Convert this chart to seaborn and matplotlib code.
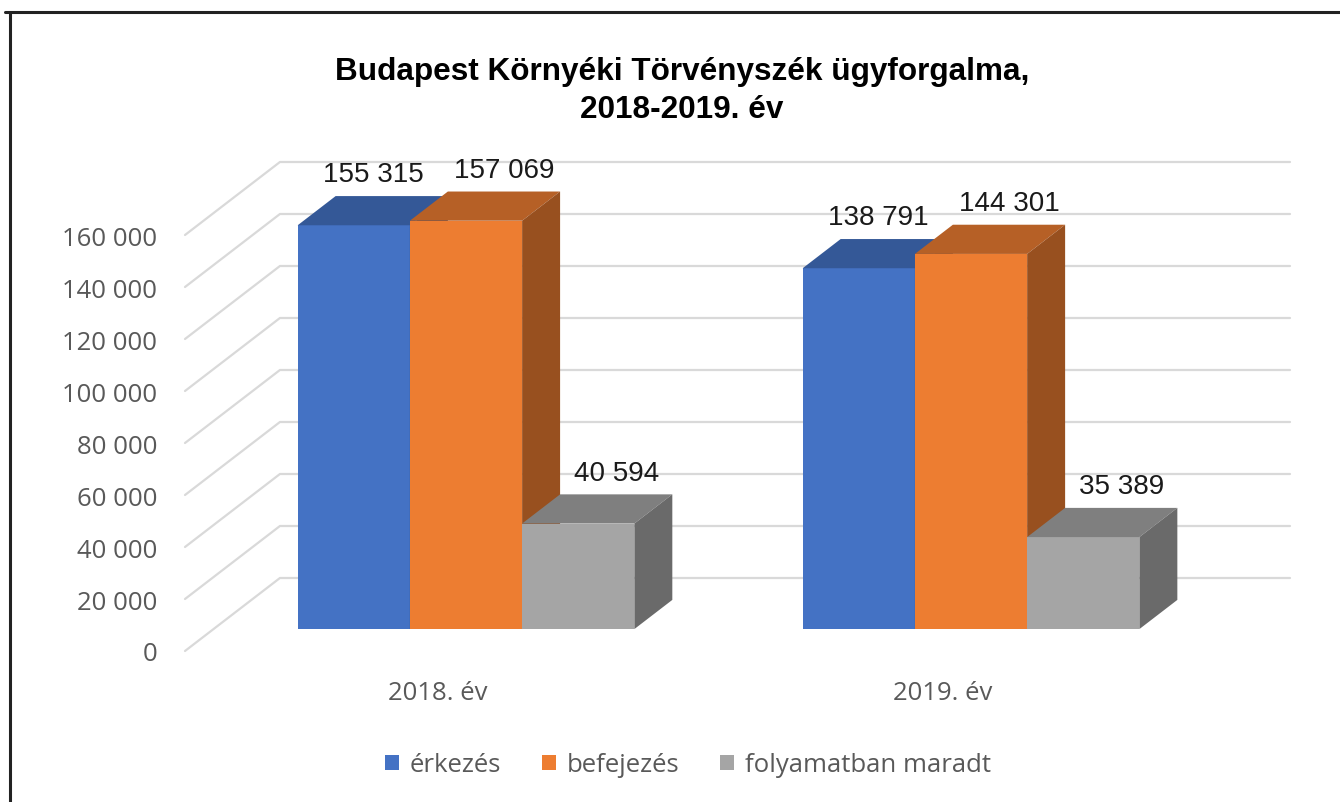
import numpy as np
import pandas as pd
import matplotlib
matplotlib.use("Agg")
import matplotlib.pyplot as plt
import seaborn as sns
from matplotlib.patches import Polygon
from matplotlib.lines import Line2D

# data
years = ["2018. év", "2019. év"]
series = ["érkezés", "befejezés", "folyamatban maradt"]
erkezes = [155315, 138791]
befejezes = [157069, 144301]
folyamatban = [40594, 35389]
yticks = [0, 20000, 40000, 60000, 80000, 100000, 120000, 140000, 160000]
colors = ["#4472C4", "#ED7D31", "#A5A5A5"]

df = pd.DataFrame({
    "ev": years * 3,
    "tipus": [series[0]] * 2 + [series[1]] * 2 + [series[2]] * 2,
    "ertek": erkezes + befejezes + folyamatban,
})

sns.set_style("white")
plt.rcParams["font.family"] = ["Open Sans", "DejaVu Sans"]

W, H = 1340, 803
fig = plt.figure(figsize=(W / 100, H / 100), dpi=100)
ax = fig.add_axes([185 / W, (H - 652) / H, 1105 / W, 489 / H])

# oblique "3D" projection: depth shifts x by DX categories and y by DY value units
DX = 0.188
DY = 28077
Z0, Z1 = 0.3, 0.7
# label nudges (points) per series, like Excel's overlap avoidance
label_dx = {series[0]: -13, series[1]: 0, series[2]: 0}

sns.barplot(data=df, x="ev", y="ertek", hue="tipus", palette=colors,
            width=2 / 3, saturation=1, errorbar=None, linewidth=0, ax=ax)

bars = [p for p in ax.patches if p.get_height() > 0 and p.get_width() > 0]
bars = sorted(bars, key=lambda p: p.get_x())

# wall gridlines
for v in yticks:
    ax.plot([-0.5, -0.5 + DX, 1.5 + DX], [v, v + DY, v + DY],
            color="#D9D9D9", lw=1.6, zorder=0, clip_on=False)

d = Z1 - Z0
for i, p in enumerate(bars):
    x0 = p.get_x() + Z0 * DX
    w = p.get_width()
    h = p.get_height()
    y0 = Z0 * DY
    p.set_x(x0)
    p.set_y(y0)
    zo = 3 + i * 0.1
    p.set_zorder(zo)
    fc = np.array(p.get_facecolor()[:3])
    top = [(x0, y0 + h), (x0 + w, y0 + h), (x0 + w + d * DX, y0 + h + d * DY), (x0 + d * DX, y0 + h + d * DY)]
    side = [(x0 + w, y0), (x0 + w + d * DX, y0 + d * DY), (x0 + w + d * DX, y0 + h + d * DY), (x0 + w, y0 + h)]
    ax.add_patch(Polygon(top, closed=True, facecolor=fc * 0.77, edgecolor="none", zorder=zo, clip_on=False))
    ax.add_patch(Polygon(side, closed=True, facecolor=fc * 0.64, edgecolor="none", zorder=zo, clip_on=False))
    ser = series[colors.index(matplotlib.colors.to_hex(fc).upper())]
    label = f"{int(round(h)):,}".replace(",", " ")
    ax.annotate(label, (x0 + w / 2 + d * DX, y0 + h + d * DY), xytext=(label_dx[ser], 10.5),
                textcoords="offset points", ha="center", va="baseline",
                fontsize=20, family="Liberation Sans", color="#1a1a1a", zorder=10)

ax.set_xlim(-0.5, 1.5 + DX)
ax.set_ylim(0, 160000 + DY)
ax.set_yticks(yticks)
ax.set_yticklabels([f"{v:,}".replace(",", " ") for v in yticks])
ax.set_xlabel("")
ax.set_ylabel("")
ax.tick_params(axis="both", length=0, labelsize=18.5, labelcolor="#595959")
ax.tick_params(axis="y", pad=20)
ax.tick_params(axis="x", pad=21)
for s in ax.spines.values():
    s.set_visible(False)

sns.move_legend(ax, "center", bbox_to_anchor=(688 / W, (H - 766) / H),
                bbox_transform=fig.transFigure, ncol=3, frameon=False, title=None,
                fontsize=18.5, handlelength=0.55, handleheight=0.55,
                handletextpad=0.4, columnspacing=1.6)
for t in ax.get_legend().get_texts():
    t.set_color("#595959")

fig.text(682 / W, (H - 91) / H, "Budapest Környéki Törvényszék ügyforgalma,\n2018-2019. év",
         ha="center", va="center", fontsize=22.7, fontweight="bold",
         family="Liberation Sans", linespacing=1.37, color="black")

# frame
fig.add_artist(Line2D([5 / W, 1], [(H - 13) / H] * 2, color="#222222", lw=2.2))
fig.add_artist(Line2D([10 / W] * 2, [0, (H - 13) / H], color="#222222", lw=2.2))

fig.savefig("out.png", dpi=100)
